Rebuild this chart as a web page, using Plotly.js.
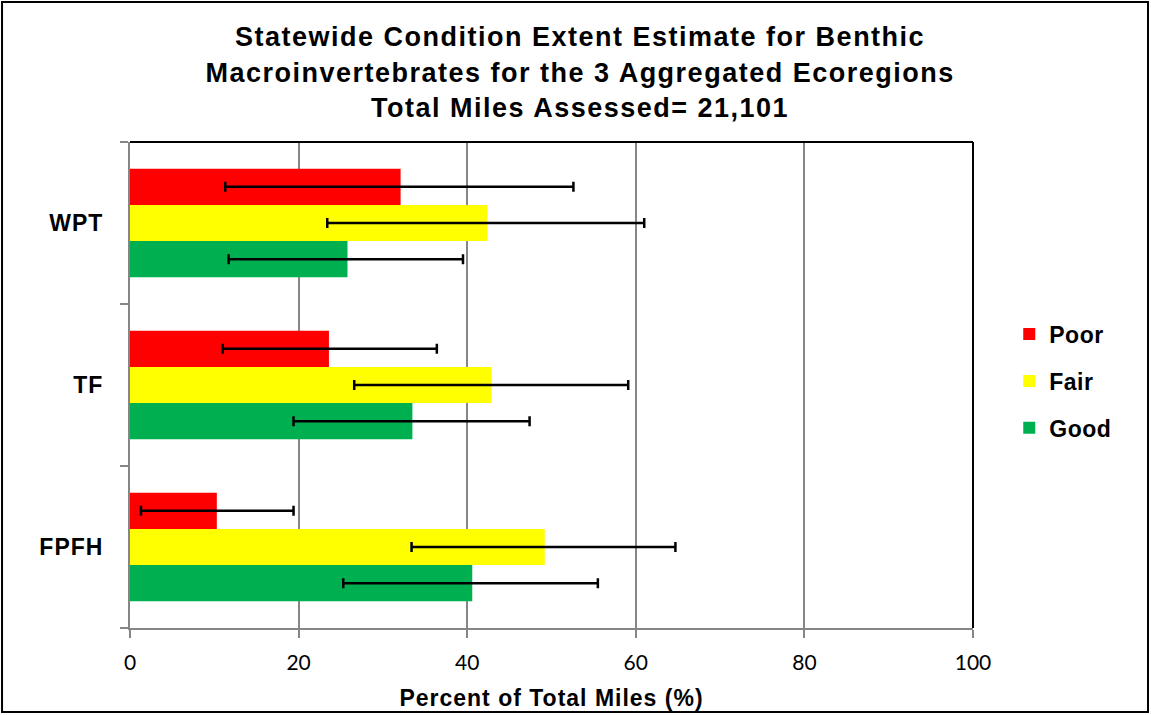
<!DOCTYPE html>
<html>
<head>
<meta charset="utf-8">
<script src="https://cdn.plot.ly/plotly-3.0.1.min.js"></script>
<style>
html, body { margin: 0; padding: 0; background: #fff; }
#chart { width: 1151px; height: 715px; }
#chart .gtitle { letter-spacing: 1.5px; }
#chart .xtitle { letter-spacing: 1px; }
#chart .ytick text { letter-spacing: 1px; }
#chart .legendtext { letter-spacing: 0.5px; }
</style>
</head>
<body>
<div id="chart"></div>
<script>
// Categories (bottom to top)
const regions = ['FPFH', 'TF', 'WPT'];
// Percent of total miles
const poorVals = [10.3, 23.6, 32.1];
const fairVals = [49.2, 42.9, 42.4];
const goodVals = [40.6, 33.5, 25.8];
// Confidence interval bounds
const poorLow = [1.3, 11.0, 11.3];
const poorHigh = [19.4, 36.4, 52.6];
const fairLow = [33.4, 26.6, 23.4];
const fairHigh = [64.7, 59.1, 61.0];
const goodLow = [25.3, 19.4, 11.7];
const goodHigh = [55.5, 47.4, 39.5];
const xTicks = [0, 20, 40, 60, 80, 100];

const seriesNames = ['Poor', 'Fair', 'Good'];
const seriesColors = ['#ff0000', '#ffff00', '#00b050'];

function barTrace(name, vals, lo, hi, color) {
  return {
    type: 'bar', orientation: 'h', name: name,
    y: regions, x: vals,
    marker: { color: color, line: { width: 0 } },
    error_x: {
      type: 'data', symmetric: false,
      array: hi.map((h, i) => h - vals[i]),
      arrayminus: lo.map((l, i) => vals[i] - l),
      color: '#000', thickness: 2.5, width: 5
    },
    showlegend: false, hoverinfo: 'x+y'
  };
}

function legendTrace(name, color, grp) {
  return {
    type: 'scatter', mode: 'markers', name: name,
    x: [null], y: [null], legendgroup: grp,
    marker: { symbol: 'square', size: 12, color: color },
    showlegend: true, hoverinfo: 'skip'
  };
}

const data = [
  barTrace('Good', goodVals, goodLow, goodHigh, seriesColors[2]),
  barTrace('Fair', fairVals, fairLow, fairHigh, seriesColors[1]),
  barTrace('Poor', poorVals, poorLow, poorHigh, seriesColors[0]),
  legendTrace(seriesNames[0], seriesColors[0], 'g1'),
  legendTrace(seriesNames[1], seriesColors[1], 'g2'),
  legendTrace(seriesNames[2], seriesColors[2], 'g3')
];

const layout = {
  width: 1151, height: 715,
  paper_bgcolor: '#fff', plot_bgcolor: '#fff',
  margin: { l: 130, r: 178, t: 142, b: 87, pad: 0 },
  barmode: 'group', bargap: 0.33, bargroupgap: 0,
  font: { family: 'Liberation Sans, Arial, sans-serif', color: '#000' },
  title: {
    text: 'Statewide Condition Extent Estimate for Benthic<br>Macroinvertebrates for the 3 Aggregated Ecoregions<br>Total Miles Assessed= 21,101',
    font: { family: 'Liberation Sans, Arial, sans-serif', size: 27, weight: 700, color: '#000' },
    xref: 'container', x: 0.504, xanchor: 'center',
    yref: 'container', y: 0.935, yanchor: 'top'
  },
  xaxis: {
    range: [0, 100], tickvals: xTicks, ticktext: xTicks.map(String),
    showgrid: true, gridcolor: '#868686', gridwidth: 2,
    showline: true, linecolor: '#868686', linewidth: 2,
    ticks: 'outside', ticklen: 8, tickwidth: 2, tickcolor: '#868686',
    tickfont: { family: 'Lato, Carlito, sans-serif', size: 21, color: '#000' },
    ticklabelstandoff: 7,
    zeroline: false,
    title: { text: 'Percent of Total Miles (%)', standoff: 17,
      font: { family: 'Liberation Sans, Arial, sans-serif', size: 23, weight: 700, color: '#000' } },
    fixedrange: true
  },
  yaxis: {
    type: 'category', categoryorder: 'array', categoryarray: regions,
    tickson: 'boundaries', ticks: 'outside', ticklen: 8, tickwidth: 2, tickcolor: '#868686',
    showline: true, linecolor: '#868686', linewidth: 2, showgrid: false,
    tickfont: { family: 'Liberation Sans, Arial, sans-serif', size: 23, weight: 700, color: '#000' },
    ticklabelstandoff: 20,
    fixedrange: true
  },
  legend: {
    x: 1.043, xanchor: 'left', y: 0.508, yanchor: 'middle',
    traceorder: 'grouped', tracegroupgap: 14,
    font: { family: 'Liberation Sans, Arial, sans-serif', size: 23, weight: 700, color: '#000' },
    bgcolor: 'rgba(0,0,0,0)', itemwidth: 30
  },
  shapes: [
    { type: 'line', xref: 'paper', yref: 'paper', x0: 0, x1: 1, y0: 1, y1: 1,
      line: { color: '#000', width: 2 }, layer: 'above' },
    { type: 'line', xref: 'paper', yref: 'paper', x0: 1, x1: 1, y0: 0, y1: 1,
      line: { color: '#000', width: 2 }, layer: 'above' },
    { type: 'rect', xref: 'paper', yref: 'paper', x0: -0.1518, x1: 1.2076, y0: -0.1728, y1: 1.288,
      line: { color: '#000', width: 2 }, fillcolor: 'rgba(0,0,0,0)', layer: 'above' }
  ]
};

Plotly.newPlot('chart', data, layout, { displayModeBar: false, responsive: false });
</script>
</body>
</html>
